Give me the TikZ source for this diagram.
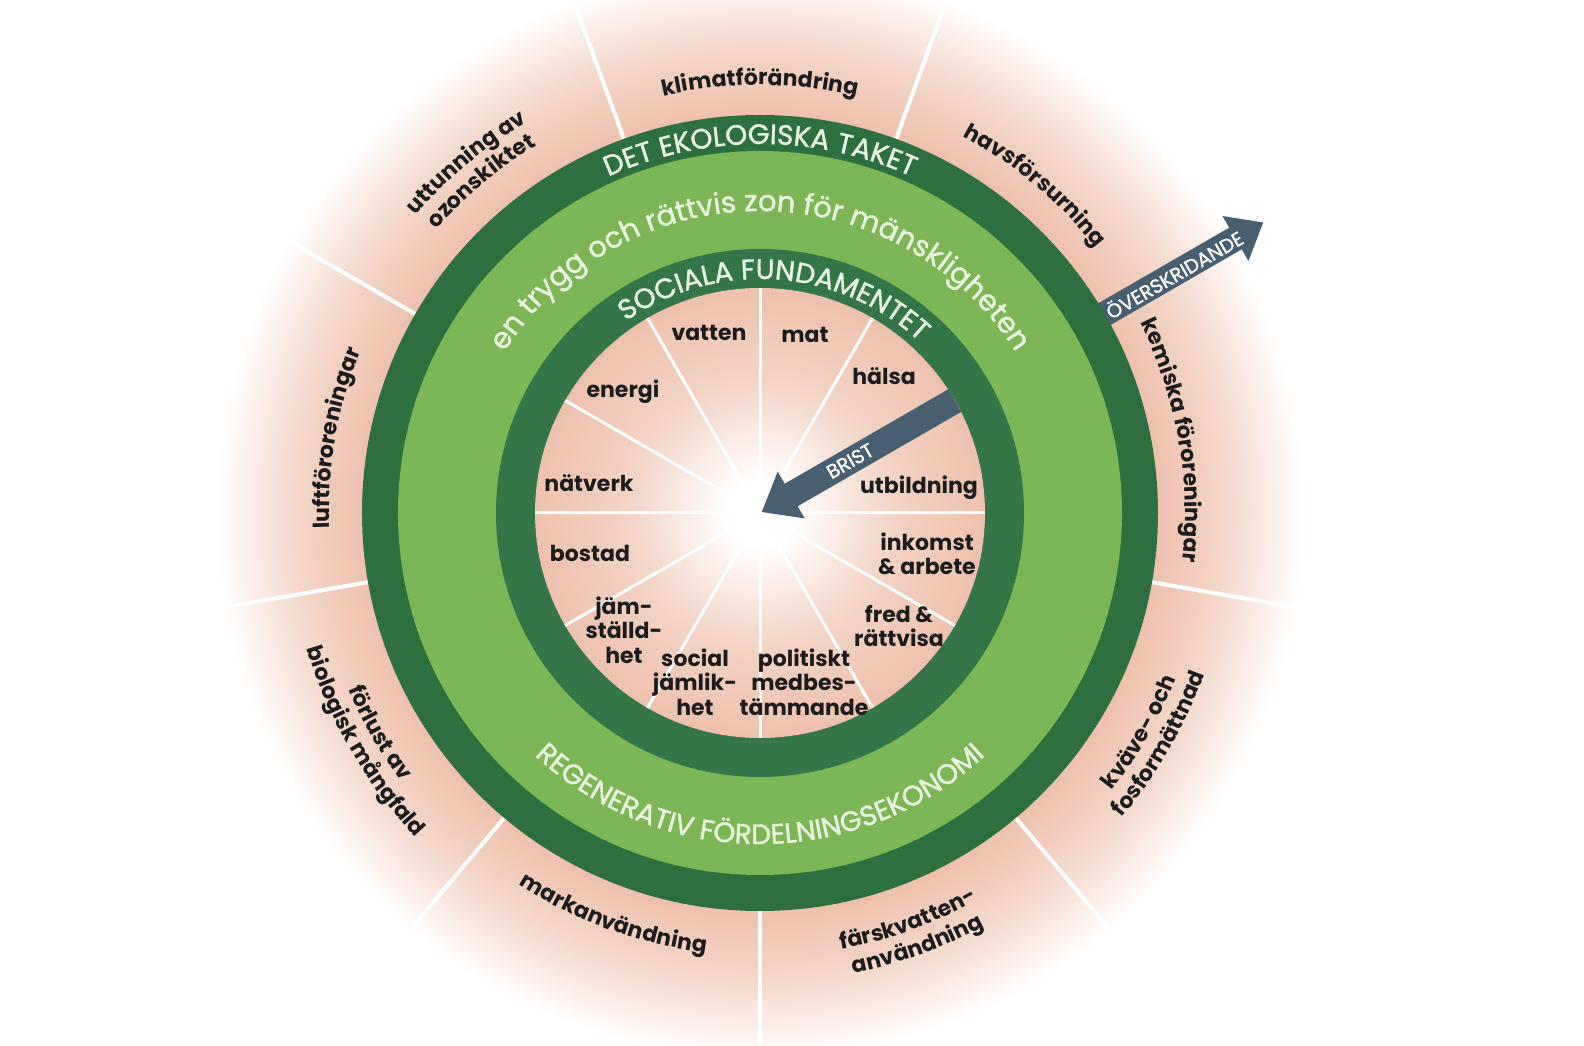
\documentclass[tikz,border=0pt]{standalone}
\usepackage{fontspec}
\setmainfont{Poppins}
\newfontfamily\titlefam{Poppins}[FakeBold=1.2]
\usepackage{tikz}
\usetikzlibrary{decorations.text}

\definecolor{ceilgreen}{RGB}{46,111,64}
\definecolor{basegreen}{RGB}{53,118,72}
\definecolor{zonegreen}{RGB}{125,182,86}
\definecolor{ringtext}{RGB}{232,245,226}
\definecolor{pinkdeep}{RGB}{238,193,173}
\definecolor{pinkmid}{RGB}{243,211,196}
\definecolor{pinklight}{RGB}{249,233,226}
\definecolor{arrowslate}{RGB}{72,95,113}
\definecolor{labelink}{RGB}{28,28,28}

\newcommand{\lblfont}{\fontsize{22}{24.5}\selectfont\bfseries}
\newcommand{\ringfont}{\titlefam\fontsize{28}{32}\selectfont}
\newcommand{\zonefont}{\titlefam\fontsize{29}{33}\selectfont}
\newcommand{\arrowfont}{\titlefam\fontsize{19.5}{22}\selectfont}

% a path's bounding box maps onto the central 25bp of a shading
\pgfdeclareradialshading{outerglow}{\pgfpoint{0bp}{0bp}}{%
  color(0bp)=(pinkdeep); color(17.8bp)=(pinkdeep); color(20.3bp)=(pinkmid);
  color(22.5bp)=(pinklight); color(24.3bp)=(white); color(50bp)=(white)}
\pgfdeclareradialshading{innerglow}{\pgfpoint{0bp}{0bp}}{%
  color(0bp)=(white); color(3.5bp)=(white); color(15bp)=(pinkmid);
  color(25bp)=(pinkdeep); color(50bp)=(pinkdeep)}

\tikzset{
  socialbl/.style={font=\lblfont, text=labelink, align=center, inner sep=1pt},
  boundary/.style={decorate, decoration={text along path, text align=center,
      text={|\lblfont\color{labelink}|#1}}},
  ringtitle/.style={decorate, decoration={text along path, text align=center,
      text={|\ringfont\color{ringtext}|#1}}},
  zonetitle/.style={decorate, decoration={text along path, text align=center,
      text={|\zonefont\color{ringtext}|#1}}},
  spokeout/.style={white, line width=4pt},
  spokein/.style={white, line width=3pt},
  arrowtxt/.style={font=\arrowfont, text=white, inner sep=0pt}
}

\begin{document}
\begin{tikzpicture}[x=1pt, y=1pt]
  \useasboundingbox (-760,-533) rectangle (824,513);
  \fill[white] (-760,-533) rectangle (824,513);

  % planetary boundaries backdrop
  \shade[shading=outerglow] (0,0) circle (560);
  \foreach \a in {30,70,...,350}
    \draw[spokeout] (\a:398) -- (\a:560);

  % overshoot
  \begin{scope}[rotate=30]
    \fill[arrowslate] (385,-12.5) -- (549,-12.5) -- (549,-26) -- (581,0)
      -- (549,26) -- (549,12.5) -- (385,12.5) -- cycle;
    \node[arrowtxt, rotate=30] (overshoot) at (478,0) {ÖVERSKRIDANDE};
  \end{scope}

  % rings
  \fill[ceilgreen] (0,0) circle (398);
  \fill[zonegreen] (0,0) circle (362);
  \fill[basegreen] (0,0) circle (264);
  \shade[shading=innerglow] (0,0) circle (225);
  \foreach \a in {0,30,...,330}
    \draw[spokein] (0,0) -- (\a:225);

  % shortfall
  \begin{scope}
    \clip (0,0) circle (225);
    \begin{scope}[rotate=30]
      \fill[arrowslate] (240,-13) -- (36,-13) -- (36,-27) -- (2,0)
        -- (36,27) -- (36,13) -- (240,13) -- cycle;
      \node[arrowtxt, rotate=30] (shortfall) at (104,0) {BRIST};
    \end{scope}
  \end{scope}

  % ring titles
  \path[ringtitle={DET EKOLOGISKA TAKET}]
    (150:369) arc[start angle=150, end angle=30, radius=369];
  \path[zonetitle={en trygg och rättvis zon för mänskligheten}]
    (178:302) arc[start angle=178, end angle=2, radius=302];
  \path[ringtitle={SOCIALA FUNDAMENTET}]
    (166:234) arc[start angle=166, end angle=6, radius=234];
  \path[ringtitle={REGENERATIV FÖRDELNINGSEKONOMI}]
    (-172:331) arc[start angle=-172, end angle=-8, radius=331];

  % ecological ceiling
  \path[boundary={klimatförändring}]
    (130:428) arc[start angle=130, end angle=50, radius=428];
  \path[boundary={havsförsurning}]
    (90:428) arc[start angle=90, end angle=10, radius=428];
  \path[boundary={kemiska föroreningar}]
    (50:425) arc[start angle=50, end angle=-30, radius=425];
  \path[boundary={kväve- och}]
    (-70:448) arc[start angle=-70, end angle=10, radius=448];
  \path[boundary={fosformättnad}]
    (-70:473) arc[start angle=-70, end angle=10, radius=473];
  \path[boundary={färskvatten-}]
    (-110:444) arc[start angle=-110, end angle=-30, radius=444];
  \path[boundary={användning}]
    (-110:470) arc[start angle=-110, end angle=-30, radius=470];
  \path[boundary={markanvändning}]
    (-150:443) arc[start angle=-150, end angle=-70, radius=443];
  \path[boundary={förlust av}]
    (-190:448) arc[start angle=-190, end angle=-110, radius=448];
  \path[boundary={biologisk mångfald}]
    (-190:473) arc[start angle=-190, end angle=-110, radius=473];
  \path[boundary={luftföroreningar}]
    (210:431) arc[start angle=210, end angle=130, radius=431];
  \path[boundary={uttunning av}]
    (170:455) arc[start angle=170, end angle=90, radius=455];
  \path[boundary={ozonskiktet}]
    (170:430) arc[start angle=170, end angle=90, radius=430];

  % social foundation
  \node[socialbl] (vatten) at (-51,180) {vatten};
  \node[socialbl] (mat) at (45,178) {mat};
  \node[socialbl] (halsa) at (124,137) {hälsa};
  \node[socialbl] (utbildning) at (159,25) {utbildning};
  \node[socialbl] (inkomst) at (167,-41) {inkomst\\\& arbete};
  \node[socialbl] (fred) at (139,-113) {fred \&\\rättvisa};
  \node[socialbl] (politiskt) at (44,-169) {politiskt\\medbes-\\tämmande};
  \node[socialbl] (jamlikhet) at (-65,-169) {social\\jämlik-\\het};
  \node[socialbl] (jamstalldhet) at (-136,-117) {jäm-\\ställd-\\het};
  \node[socialbl] (bostad) at (-170,-40) {bostad};
  \node[socialbl] (natverk) at (-171,30) {nätverk};
  \node[socialbl] (energi) at (-137,121) {energi};
\end{tikzpicture}
\end{document}
